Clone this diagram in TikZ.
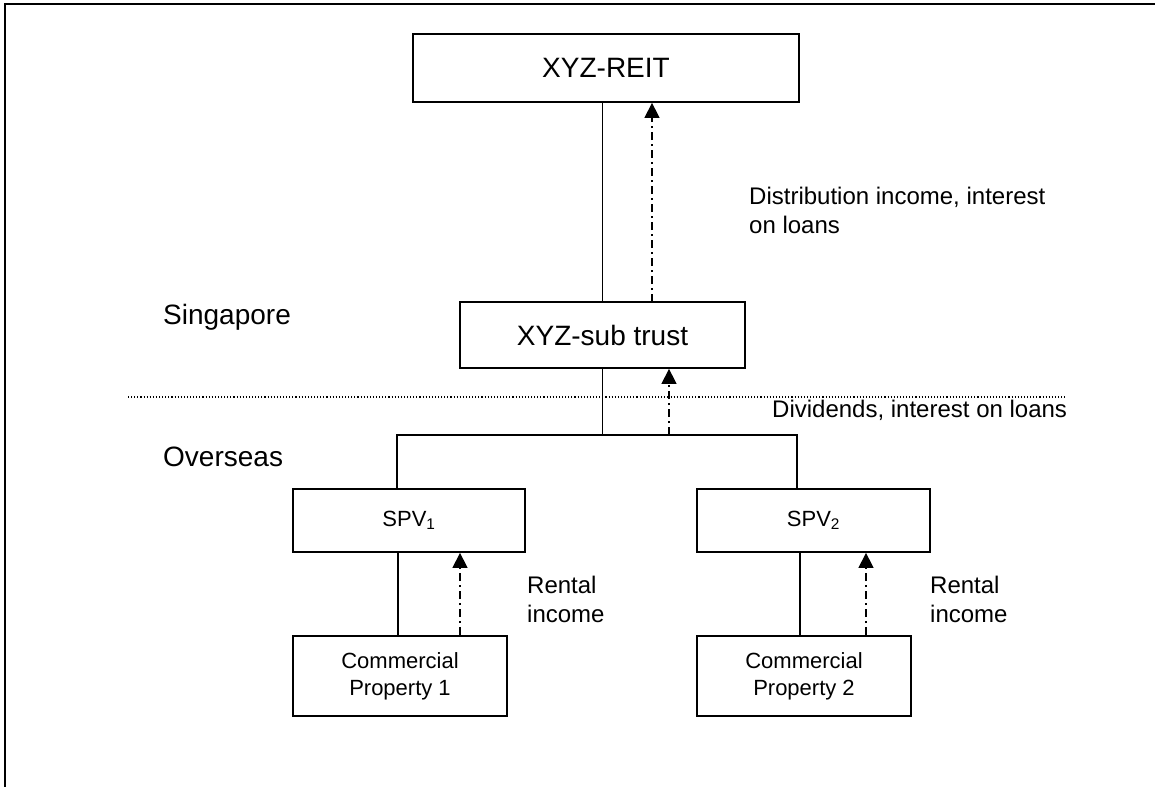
\documentclass[tikz,border=0pt]{standalone}
\usepackage{fontspec}
\setmainfont{Liberation Sans}
\usetikzlibrary{arrows.meta}
\tikzset{
  box/.style={draw, line width=1.8pt, inner sep=0pt, align=center},
  link/.style={line width=1.8pt},
  flow/.style={line width=1.4pt, dash pattern=on 8pt off 4pt on 2pt off 4pt, -{Triangle[width=15pt,length=15pt]}},
  lbl/.style={anchor=west, align=left, inner sep=0pt, font=\fontsize{24}{29}\selectfont},
  region/.style={anchor=west, inner sep=0pt, font=\fontsize{28}{32}\selectfont}
}
\begin{document}
\begin{tikzpicture}[x=1pt,y=-1pt]
\useasboundingbox (0,0) rectangle (1155,787);
% outer frame (top and left edges)
\draw[line width=2.5pt] (1155,4) -- (5,4) -- (5,787);
% nodes
\node[box, minimum width=386pt, minimum height=68pt, font=\fontsize{28}{32}\selectfont] (reit) at (606,68) {XYZ-REIT};
\node[box, minimum width=285pt, minimum height=66pt, font=\fontsize{28}{32}\selectfont] (sub) at (602.5,335) {XYZ-sub trust};
\node[box, minimum width=232pt, minimum height=63pt, font=\fontsize{22}{26}\selectfont] (spv1) at (409,520.5) {SPV\textsubscript{1}};
\node[box, minimum width=233pt, minimum height=63pt, font=\fontsize{22}{26}\selectfont] (spv2) at (813.5,520.5) {SPV\textsubscript{2}};
\node[box, minimum width=214pt, minimum height=80pt, font=\fontsize{22}{27}\selectfont] (cp1) at (400,676) {Commercial\\Property 1};
\node[box, minimum width=214pt, minimum height=80pt, font=\fontsize{22}{27}\selectfont] (cp2) at (804,676) {Commercial\\Property 2};
% region labels and divider
\node[region] (sg) at (163,317) {Singapore};
\node[region] (os) at (163,457) {Overseas};
\coordinate (divL) at (128,397);
\coordinate (divR) at (1065,397);
\draw[line width=1.1pt, dotted] (divL) -- (divR);
% REIT - sub trust
\draw[link] (sub.north) -- (sub.north |- reit.south);
\coordinate (f1) at (652,302);
\draw[flow] (f1) -- (f1 |- reit.south);
\node[lbl] (l1) at (749,210) {Distribution income, interest\\on loans};
% sub trust - SPVs
\coordinate (busL) at (397,435);
\coordinate (busR) at (797,435);
\draw[link] (sub.south) -- (sub.south |- busL);
\draw[link] (busL |- spv1.north) -- (busL) -- (busR) -- (busR |- spv2.north);
\coordinate (f2) at (669,435);
\draw[flow] (f2) -- (f2 |- sub.south);
\node[lbl] (l2) at (772,410) {Dividends, interest on loans};
% SPV1 - CP1
\coordinate (s1) at (398,552);
\draw[link] (s1 |- spv1.south) -- (s1 |- cp1.north);
\coordinate (f3) at (460,636);
\draw[flow] (f3 |- cp1.north) -- (f3 |- spv1.south);
\node[lbl] (l3) at (527,599) {Rental\\income};
% SPV2 - CP2
\coordinate (s2) at (800,552);
\draw[link] (s2 |- spv2.south) -- (s2 |- cp2.north);
\coordinate (f4) at (866,636);
\draw[flow] (f4 |- cp2.north) -- (f4 |- spv2.south);
\node[lbl] (l4) at (930,599) {Rental\\income};
\end{tikzpicture}
\end{document}
